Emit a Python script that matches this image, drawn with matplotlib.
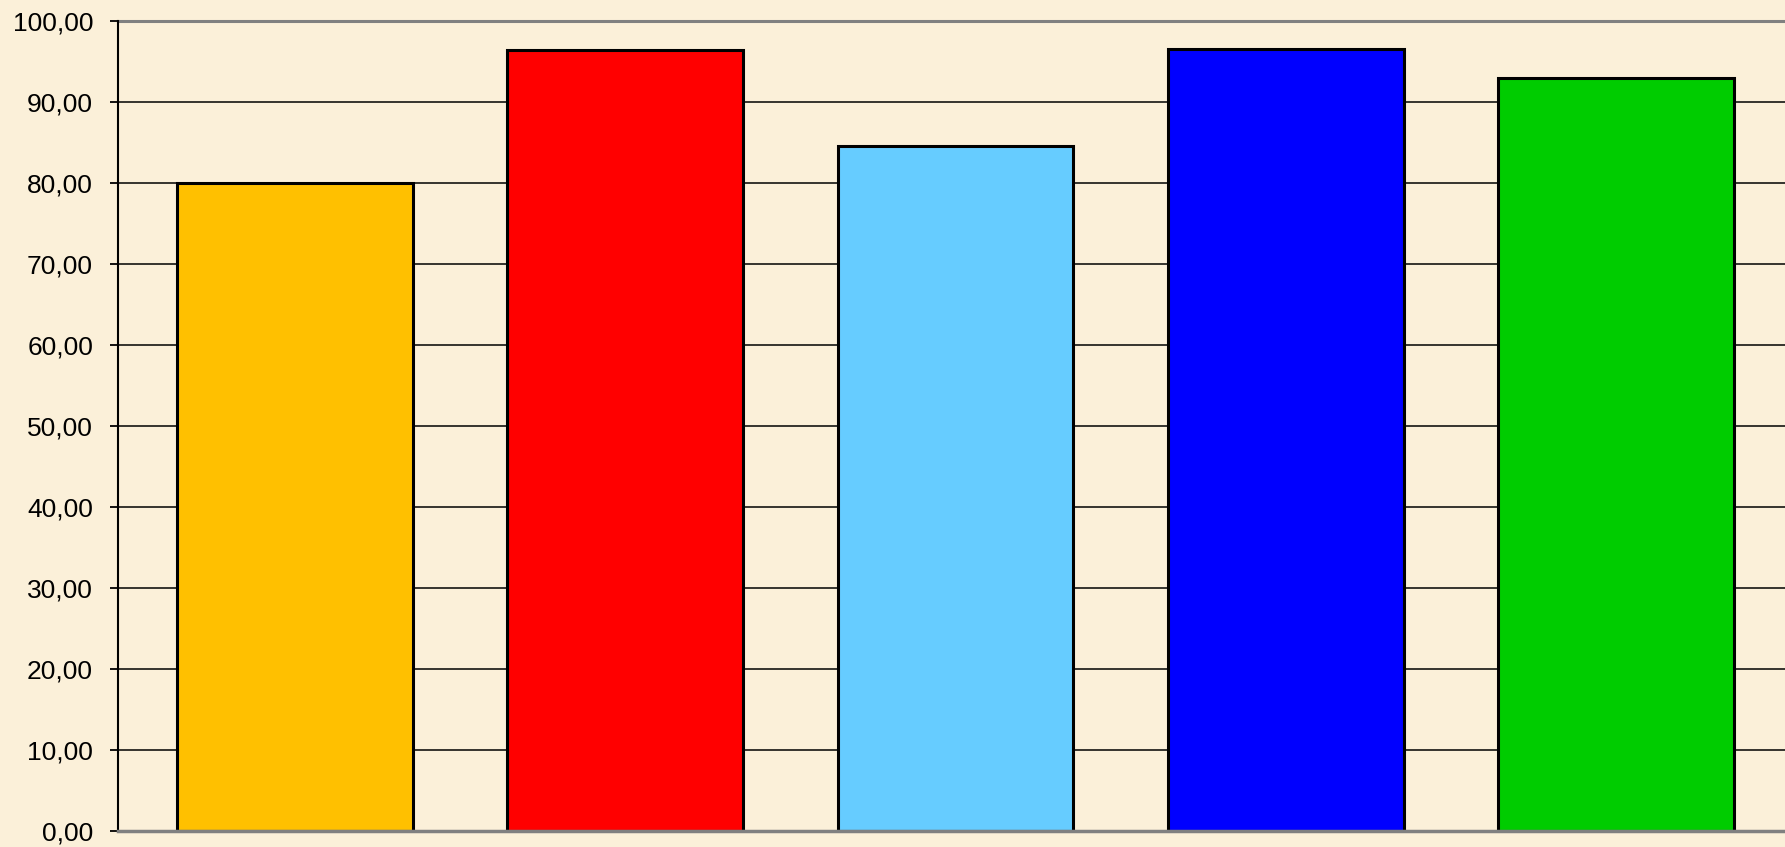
import matplotlib.pyplot as plt
from matplotlib.ticker import FuncFormatter

# datos del gráfico
categorias = ["A", "B", "C", "D", "E"]
valores = [80.0, 96.35, 84.5, 96.5, 92.85]
colores = ["#FFC000", "#FF0000", "#66CCFF", "#0000FF", "#00CC00"]
ticks_y = [0, 10, 20, 30, 40, 50, 60, 70, 80, 90, 100]

fondo = "#FBF0D9"

fig = plt.figure(figsize=(17.85, 8.47), dpi=100, facecolor=fondo)
ax = fig.add_axes([118 / 1785, 16 / 847, 1 - 118 / 1785, (831 - 20.5) / 847])
ax.set_facecolor(fondo)

posiciones = range(len(categorias))
ax.bar(posiciones, valores, width=0.714, color=colores,
       edgecolor="black", linewidth=2.2, zorder=3)

ax.set_ylim(0, 100)
ax.set_xlim(-0.536, 4.512)
ax.set_yticks(ticks_y)
ax.yaxis.set_major_formatter(FuncFormatter(lambda v, p: f"{v:.2f}".replace(".", ",")))
ax.set_xticks([])

# líneas de cuadrícula
for v in ticks_y[1:-1]:
    ax.axhline(v, color="black", linewidth=1.1, zorder=1)
ax.axhline(100, color="#808080", linewidth=2.2, zorder=1, clip_on=False)

for lado in ["top", "right"]:
    ax.spines[lado].set_visible(False)
ax.spines["left"].set_linewidth(1.5)
ax.spines["bottom"].set_color("#808080")
ax.spines["bottom"].set_linewidth(2.5)
ax.spines["bottom"].set_zorder(4)

ax.tick_params(axis="y", length=6, width=1.3, pad=12, labelsize=19,
               labelfontfamily="Liberation Sans")

fig.savefig("out.png", dpi=100, facecolor=fondo)
